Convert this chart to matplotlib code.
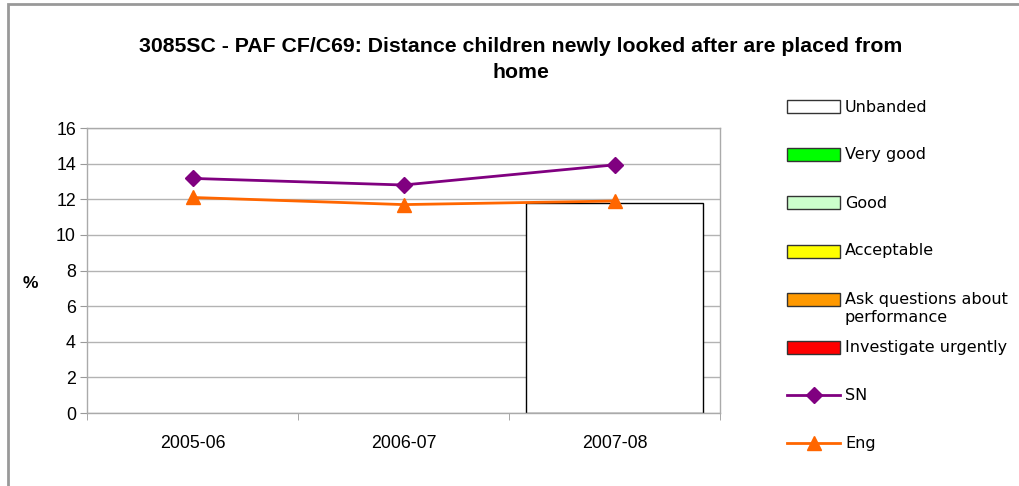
import matplotlib.pyplot as plt
from matplotlib.patches import Rectangle
from matplotlib.lines import Line2D
import numpy as np

plt.rcParams['font.family'] = ['Liberation Sans', 'DejaVu Sans']

# Chart data
years = ["2005-06", "2006-07", "2007-08"]
unbanded = [np.nan, np.nan, 11.8]
sn_values = [13.17, 12.8, 13.93]
eng_values = [12.1, 11.7, 11.9]

band_labels = ["Unbanded", "Very good", "Good", "Acceptable",
               "Ask questions about\nperformance", "Investigate urgently"]
band_colors = ["#ffffff", "#00ff00", "#ccffcc", "#ffff00", "#ff9900", "#ff0000"]

W, H = 1019, 486
fig = plt.figure(figsize=(W / 100, H / 100), dpi=100)

# outer chart border
fig.patches.append(Rectangle((8 / W, -0.1), 1.2, 1 - 4.5 / H + 0.1, transform=fig.transFigure,
                             fill=False, edgecolor="#999999", linewidth=2))

ax = fig.add_axes([87 / W, 1 - 413 / H, (720 - 87) / W, (413 - 128) / H])
x = np.arange(len(years))

ax.bar(x, unbanded, width=0.835, color="white", edgecolor="black", linewidth=1, zorder=2)
ax.plot(x, sn_values, color="#800080", linewidth=2, marker="D", markersize=8, zorder=4)
ax.plot(x, eng_values, color="#ff6600", linewidth=2, marker="^", markersize=10, zorder=3)

ax.set_xlim(-0.5, 2.5)
ax.set_ylim(0, 16)
ax.set_yticks(np.arange(0, 17, 2))
ax.grid(axis="y", color="#b3b3b3", linewidth=1, zorder=0)
ax.set_axisbelow(True)
ax.set_xticks(x)
ax.set_xticklabels(years, fontsize=12.8)
ax.set_xticks(np.arange(-0.5, 3, 1), minor=True)
ax.tick_params(axis="x", which="major", length=0, pad=16)
ax.tick_params(axis="x", which="minor", length=5, color="#999999", direction="out")
ax.tick_params(axis="y", length=5, color="#999999", labelsize=12.8, pad=3)
for s in ax.spines.values():
    s.set_color("#aaaaaa")
    s.set_linewidth(1)

fig.text(30 / W, 1 - 283 / H, "%", ha="center", va="center", fontsize=12.5, fontweight="bold")

fig.text(521 / W, 1 - 46 / H, "3085SC - PAF CF/C69: Distance children newly looked after are placed from",
         ha="center", va="center", fontsize=15.3, fontweight="bold")
fig.text(521 / W, 1 - 73 / H, "home", ha="center", va="center", fontsize=15.3, fontweight="bold")

# legend drawn by hand to keep Excel-like spacing
x0, x1, xt = 787 / W, 840 / W, 845 / W
step = 48
for i, (lab, col) in enumerate(zip(band_labels, band_colors)):
    yc = 1 - (107 + step * i) / H
    fig.patches.append(Rectangle((x0, yc - 6.5 / H), x1 - x0, 13 / H, transform=fig.transFigure,
                                 facecolor=col, edgecolor="#333333", linewidth=1))
    fig.text(xt, yc + 7.5 / H, lab, ha="left", va="top", fontsize=11.5,
             family=["DejaVu Sans"], linespacing=1.25)

for j, (lab, col, mk, ms) in enumerate([("SN", "#800080", "D", 8), ("Eng", "#ff6600", "^", 10)]):
    yc = 1 - (107 + step * (6 + j)) / H
    fig.lines.append(Line2D([x0, x1], [yc, yc], transform=fig.transFigure, color=col, linewidth=2))
    fig.lines.append(Line2D([(x0 + x1) / 2], [yc], transform=fig.transFigure, color=col,
                            marker=mk, markersize=ms))
    fig.text(xt, yc + 7.5 / H, lab, ha="left", va="top", fontsize=11.5, family=["DejaVu Sans"])

fig.savefig("out.png", dpi=100)
